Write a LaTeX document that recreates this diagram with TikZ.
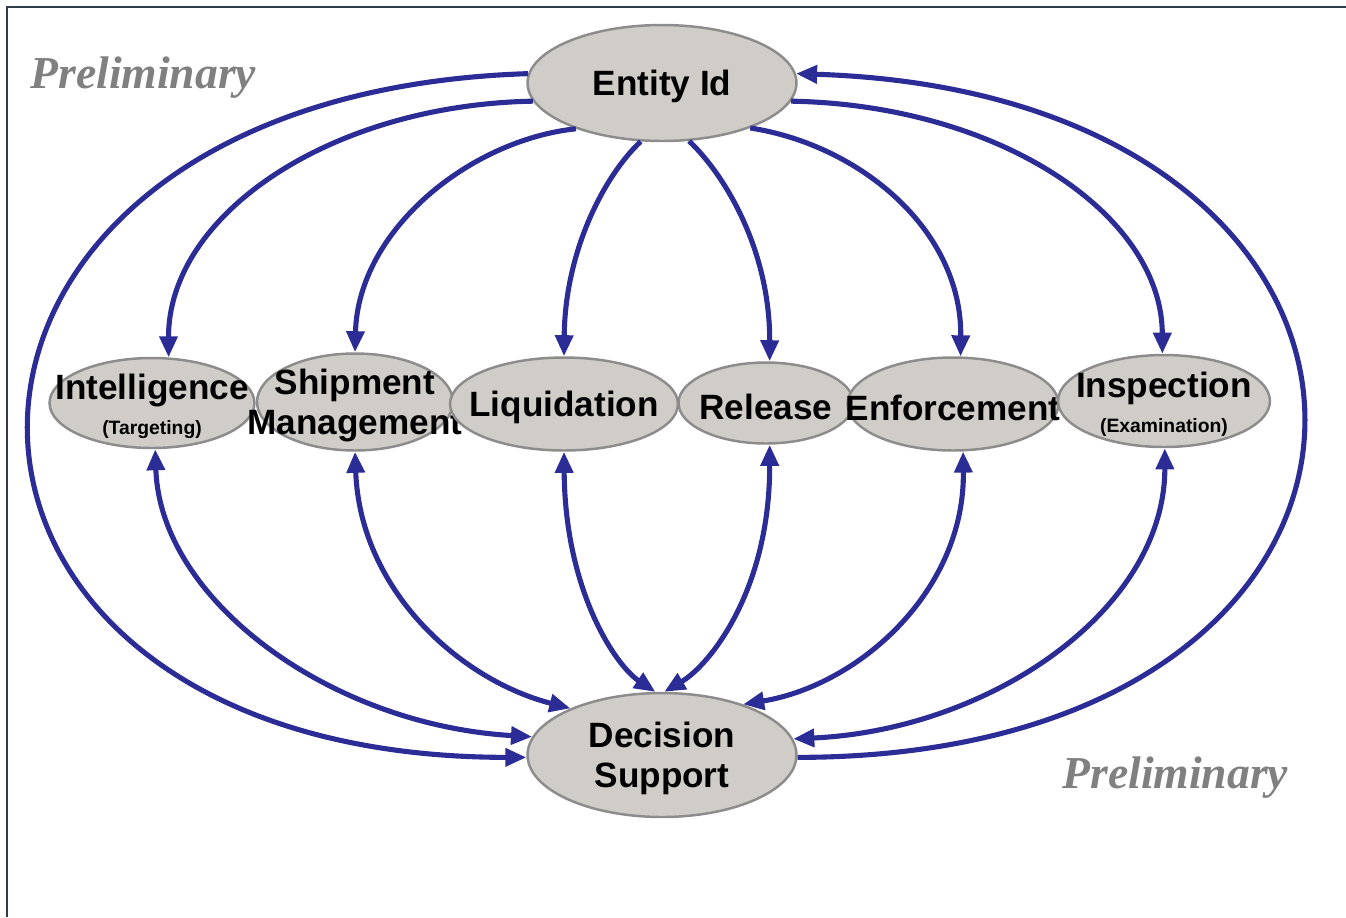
\documentclass[tikz,border=0pt]{standalone}
\usepackage{xcolor}
\usepackage{fontspec}
\setmainfont{Liberation Sans}
\newfontfamily\prelimfont{Liberation Serif}
\usepackage{tikz}
\usetikzlibrary{shapes.geometric, arrows.meta, positioning}

\definecolor{arrowblue}{RGB}{44,44,150}
\definecolor{nodegray}{RGB}{208,204,199}
\definecolor{ringgray}{RGB}{140,140,140}
\definecolor{framegray}{RGB}{47,58,74}
\newcommand{\subtxt}{\fontsize{11}{13}\selectfont}

\begin{document}
\begin{tikzpicture}[
    x=0.02cm, y=0.02cm,
    proc/.style = {ellipse, draw=ringgray, fill=nodegray, line width=1.4pt, inner sep=0pt},
    lbl/.style = {font=\bfseries\fontsize{20}{23}\selectfont, align=center, inner sep=0pt, yshift=-2pt},
    prelim/.style = {font=\prelimfont\bfseries\itshape\fontsize{26}{28}\selectfont, text=gray, anchor=base west, inner sep=0pt},
    arrow/.style = {draw=arrowblue, line width=2.9pt, ->, >={Triangle[length=12pt, width=10pt]}},
    twoway/.style = {arrow, <->}
]
\useasboundingbox (0,0) rectangle (1346,-917);
\draw[framegray, line width=1.6pt] (7,-917) -- (7,-7) -- (1346,-7);

% Nodes
\node (eid) [proc, minimum width=5.38cm, minimum height=2.32cm, label={[lbl]center:Entity Id}] at (662,-83) {};
\node (intel) [proc, minimum width=4.1cm, minimum height=1.8cm, label={[lbl]center:{Intelligence\\[-3pt]{\subtxt (Targeting)}}}] at (152,-403) {};
\node (ship) [proc, minimum width=3.92cm, minimum height=1.94cm, label={[lbl]center:{Shipment\\Management}}] at (355,-402) {};
\node (liq) [proc, minimum width=4.56cm, minimum height=1.86cm, label={[lbl]center:Liquidation}] at (564,-404) {};
\node (rel) [proc, minimum width=3.5cm, minimum height=1.62cm, label={[lbl]center:Release}] at (766,-403) {};
\node (enf) [proc, minimum width=4.22cm, minimum height=1.86cm, label={[lbl]center:Enforcement}] at (953,-404) {};
\node (insp) [proc, minimum width=4.24cm, minimum height=1.84cm, label={[lbl]center:{Inspection\\[-3pt]{\subtxt (Examination)}}}] at (1164,-401) {};
\node (ds) [proc, minimum width=5.38cm, minimum height=2.48cm, label={[lbl]center:{Decision\\Support}}] at (662,-755) {};

\node (prelimA) [prelim] at (30,-88) {Preliminary};
\node (prelimB) [prelim] at (1062,-788) {Preliminary};

% Arrows
\draw [arrow] (eid.176) .. controls (-136,-95) and (-136,-757) .. (ds.181);
\draw [arrow] (ds.-1) .. controls (1471,-757) and (1471,-95) .. (eid.4);

\draw [arrow] (eid.188) .. controls (330,-105) and (168,-215) .. (intel.70);
\draw [arrow] (eid.208) .. controls (470,-140) and (358,-230) .. (ship.north);
\draw [arrow] (eid.250) .. controls (605,-175) and (565,-250) .. (liq.north);
\draw [arrow] (eid.295) .. controls (725,-175) and (770,-250) .. (rel.85);
\draw [arrow] (eid.333) .. controls (860,-145) and (962,-230) .. (enf.81);
\draw [arrow] (eid.352) .. controls (1000,-105) and (1162,-215) .. (insp.92);

\draw [twoway] (intel.-86) .. controls (160,-600) and (330,-725) .. (ds.172);
\draw [twoway] (ship.south) .. controls (360,-590) and (460,-680) .. (ds.153);
\draw [twoway] (liq.south) .. controls (565,-590) and (615,-665) .. (ds.96);
\draw [twoway] (rel.-85) .. controls (770,-590) and (710,-665) .. (ds.88);
\draw [twoway] (enf.-78) .. controls (965,-590) and (860,-685) .. (ds.32);
\draw [twoway] (insp.-89) .. controls (1165,-610) and (990,-730) .. (ds.7);

\end{tikzpicture}
\end{document}
